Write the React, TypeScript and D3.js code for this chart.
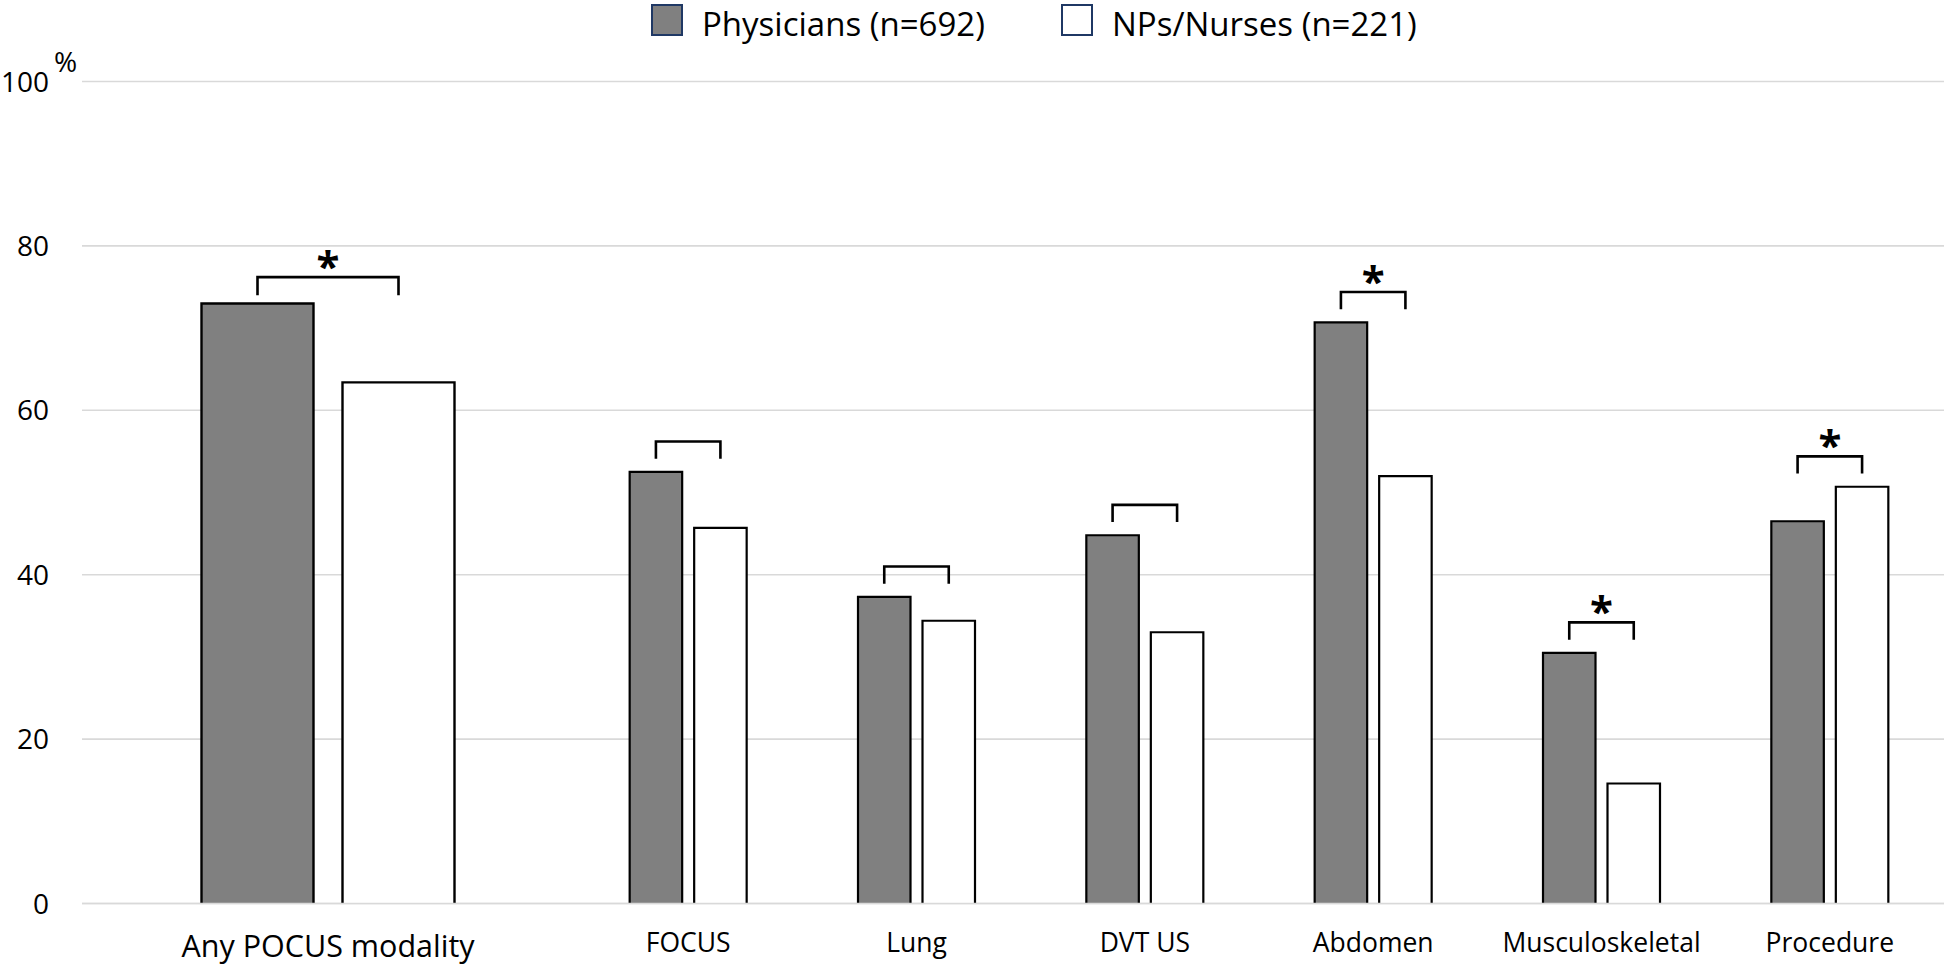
import React from 'react';
import * as d3 from 'd3';

const W = 1944;
const H = 966;

const seriesLabels = ['Physicians (n=692)', 'NPs/Nurses (n=221)'];
const seriesFill = ['#808080', '#ffffff'];

const leftCategories = ['Any POCUS modality'];
const leftPhysicians = [73.0];
const leftNurses = [63.4];
const leftSignificant = [true];

const rightCategories = ['FOCUS', 'Lung', 'DVT US', 'Abdomen', 'Musculoskeletal', 'Procedure'];
const rightPhysicians = [52.5, 37.3, 44.8, 70.7, 30.5, 46.5];
const rightNurses = [45.7, 34.4, 33.0, 52.0, 14.6, 50.7];
const rightSignificant = [false, false, false, true, true, true];

const yTicks = [0, 20, 40, 60, 80, 100];

const FONT = '"Open Sans", Lato, sans-serif';

const y = d3.scaleLinear().domain([0, 100]).range([903.5, 81.5]);

type PanelProps = {
  categories: string[];
  phys: number[];
  nurses: number[];
  sig: boolean[];
  x0: number;
  x1: number;
  groupWidth: number;
  barPad: number;
  labelSize: number;
  labelY: number;
  strokeW: number;
  bracketTop: number;
  bracketLeg: number;
};

function Panel(p: PanelProps) {
  const outer = d3.scaleBand<string>().domain(p.categories).range([p.x0, p.x1]).padding(0);
  const inner = d3
    .scaleBand<number>()
    .domain([0, 1])
    .range([0, p.groupWidth])
    .paddingInner(p.barPad)
    .paddingOuter(0);
  const bw = inner.bandwidth();
  return (
    <g>
      {yTicks.map((t) => (
        <line
          key={'g' + t}
          x1={p.x0}
          x2={p.x1}
          y1={y(t)}
          y2={y(t)}
          stroke="#d9d9d9"
          strokeWidth={1.6}
        />
      ))}
      {p.categories.map((c, i) => {
        const gx = (outer(c) as number) + outer.bandwidth() / 2 - p.groupWidth / 2;
        const vals = [p.phys[i], p.nurses[i]];
        const centers = [0, 1].map((s) => gx + (inner(s) as number) + bw / 2);
        const mx = Math.max(vals[0], vals[1]);
        const yTop = y(mx + p.bracketTop);
        const yLeg = y(mx + p.bracketLeg);
        return (
          <g key={c}>
            {vals.map((v, s) => {
              const bx = gx + (inner(s) as number);
              const top = y(v);
              const base = y(0);
              return (
                <g key={s}>
                  <rect x={bx} y={top} width={bw} height={base - top} fill={seriesFill[s]} />
                  <path
                    d={`M${bx},${base} L${bx},${top} L${bx + bw},${top} L${bx + bw},${base}`}
                    fill="none"
                    stroke="#000"
                    strokeWidth={p.strokeW}
                  />
                </g>
              );
            })}
            <path
              d={`M${centers[0]},${yLeg} L${centers[0]},${yTop} L${centers[1]},${yTop} L${centers[1]},${yLeg}`}
              fill="none"
              stroke="#000"
              strokeWidth={2.6}
            />
            {p.sig[i] && (
              <text
                x={(centers[0] + centers[1]) / 2}
                y={yTop + 4}
                textAnchor="middle"
                fontFamily={FONT}
                fontWeight="bold"
                fontSize={42}
                fill="#000"
              >
                *
              </text>
            )}
            <text
              x={(outer(c) as number) + outer.bandwidth() / 2}
              y={p.labelY}
              textAnchor="middle"
              fontFamily={FONT}
              fontSize={p.labelSize}
              fill="#000"
            >
              {c}
            </text>
          </g>
        );
      })}
      <line x1={p.x0} x2={p.x1} y1={y(0)} y2={y(0)} stroke="#d9d9d9" strokeWidth={1.6} />
    </g>
  );
}

export default function App() {
  const legendX = [652, 1062];
  return (
    <svg
      width={W}
      height={H}
      viewBox={`0 0 ${W} ${H}`}
      style={{ position: 'absolute', left: 0, top: 0, display: 'block', background: '#fff' }}
    >
      <rect x={0} y={0} width={W} height={H} fill="#fff" />
      {yTicks.map((t) => (
        <text
          key={'t' + t}
          x={49}
          y={y(t)}
          dy="0.36em"
          textAnchor="end"
          fontFamily={FONT}
          fontSize={28}
          fill="#000"
        >
          {t}
        </text>
      ))}
      <text x={54} y={72} fontFamily={FONT} fontSize={28} fill="#000">
        %
      </text>
      <Panel
        categories={leftCategories}
        phys={leftPhysicians}
        nurses={leftNurses}
        sig={leftSignificant}
        x0={82}
        x1={574}
        groupWidth={253}
        barPad={29 / 141}
        labelSize={30.5}
        labelY={957}
        strokeW={2.4}
        bracketTop={3.2}
        bracketLeg={1.0}
      />
      <Panel
        categories={rightCategories}
        phys={rightPhysicians}
        nurses={rightNurses}
        sig={rightSignificant}
        x0={574}
        x1={1944}
        groupWidth={117}
        barPad={12 / 64.5}
        labelSize={26.5}
        labelY={952}
        strokeW={2.2}
        bracketTop={3.7}
        bracketLeg={1.6}
      />
      {seriesLabels.map((s, i) => (
        <g key={s}>
          <rect
            x={legendX[i]}
            y={5}
            width={30}
            height={30}
            fill={seriesFill[i]}
            stroke="#1f3864"
            strokeWidth={2}
          />
          <text
            x={legendX[i] + 50}
            y={35.5}
            fontFamily={FONT}
            fontSize={33}
            fill="#000"
          >
            {s}
          </text>
        </g>
      ))}
    </svg>
  );
}
